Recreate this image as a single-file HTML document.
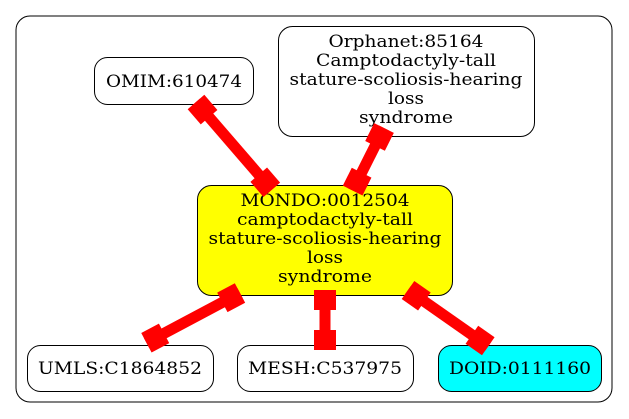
<!DOCTYPE html>
<html><head><meta charset="utf-8"><style>
html,body{margin:0;padding:0;background:#fff;width:629px;height:419px;overflow:hidden}
text{font-family:"DejaVu Serif","Liberation Serif",serif;font-size:17px;fill:#000}
</style></head><body>
<svg width="629" height="419" viewBox="0 0 629 419" xmlns="http://www.w3.org/2000/svg">
<rect x="16" y="16" width="596" height="386" rx="14" fill="#fff" stroke="#000" stroke-width="1"/>
<rect x="94.5" y="57.5" width="159" height="47" rx="13" fill="#fff" stroke="#000"/>
<text x="174" y="87" text-anchor="middle" textLength="136" lengthAdjust="spacingAndGlyphs">OMIM:610474</text>
<rect x="278.5" y="26.5" width="256" height="110" rx="14" fill="#fff" stroke="#000"/>
<g text-anchor="middle">
<text x="406" y="47" textLength="155" lengthAdjust="spacingAndGlyphs">Orphanet:85164</text>
<text x="406" y="66" textLength="180" lengthAdjust="spacingAndGlyphs">Camptodactyly-tall</text>
<text x="406" y="85" textLength="233" lengthAdjust="spacingAndGlyphs">stature-scoliosis-hearing</text>
<text x="406" y="104" textLength="36" lengthAdjust="spacingAndGlyphs">loss</text>
<text x="406" y="123" textLength="94" lengthAdjust="spacingAndGlyphs">syndrome</text>
</g>
<rect x="197.5" y="185.5" width="255" height="110" rx="14" fill="#ff0" stroke="#000"/>
<g text-anchor="middle">
<text x="325" y="206" textLength="169" lengthAdjust="spacingAndGlyphs">MONDO:0012504</text>
<text x="325" y="225" textLength="176" lengthAdjust="spacingAndGlyphs">camptodactyly-tall</text>
<text x="325" y="244" textLength="233" lengthAdjust="spacingAndGlyphs">stature-scoliosis-hearing</text>
<text x="325" y="263" textLength="36" lengthAdjust="spacingAndGlyphs">loss</text>
<text x="325" y="282" textLength="94" lengthAdjust="spacingAndGlyphs">syndrome</text>
</g>
<rect x="27.5" y="345.5" width="186" height="46" rx="13" fill="#fff" stroke="#000"/>
<text x="120" y="374" text-anchor="middle" textLength="164" lengthAdjust="spacingAndGlyphs">UMLS:C1864852</text>
<rect x="237.5" y="345.5" width="176" height="46" rx="13" fill="#fff" stroke="#000"/>
<text x="325" y="374" text-anchor="middle" textLength="154" lengthAdjust="spacingAndGlyphs">MESH:C537975</text>
<rect x="438.5" y="345.5" width="163" height="46" rx="13" fill="#0ff" stroke="#000"/>
<text x="520" y="374" text-anchor="middle" textLength="142" lengthAdjust="spacingAndGlyphs">DOID:0111160</text>
<g fill="#f00">
<g transform="translate(196,102) rotate(49.2)">
<rect x="0" y="-5.5" width="116" height="11"/><rect x="0" y="-11" width="20" height="22"/><rect x="96" y="-11" width="20" height="22"/></g>
<g transform="translate(384,128) rotate(116.6)">
<rect x="0" y="-5.5" width="70" height="11"/><rect x="0" y="-11" width="20" height="22"/><rect x="50" y="-11" width="20" height="22"/></g>
<g transform="translate(240,293) rotate(152)">
<rect x="0" y="-5.5" width="106" height="11"/><rect x="0" y="-11" width="20" height="22"/><rect x="86" y="-11" width="20" height="22"/></g>
<g transform="translate(325,290) rotate(90)">
<rect x="0" y="-5.5" width="60" height="11"/><rect x="0" y="-11" width="20" height="22"/><rect x="40" y="-11" width="20" height="22"/></g>
<g transform="translate(408,290) rotate(35)">
<rect x="0" y="-5.5" width="98" height="11"/><rect x="0" y="-11" width="20" height="22"/><rect x="78" y="-11" width="20" height="22"/></g>
</g>
</svg>
</body></html>
